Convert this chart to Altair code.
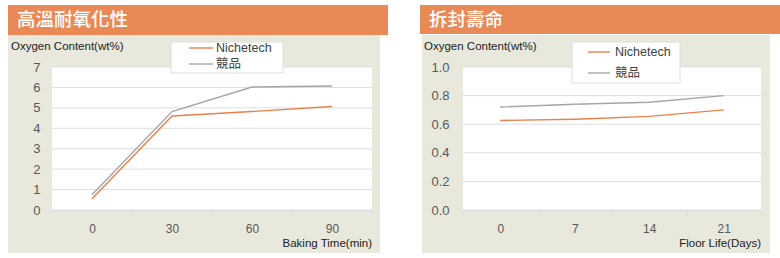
import altair as alt
import pandas as pd

# ---- data ----
series_names = ["Nichetech", "競品"]

bake_time = ["0", "30", "60", "90"]
bake_niche = [0.55, 4.6, 4.82, 5.07]
bake_comp = [0.75, 4.82, 6.02, 6.07]
bake_yticks = [0, 1, 2, 3, 4, 5, 6, 7]

floor_days = ["0", "7", "14", "21"]
floor_niche = [0.626, 0.635, 0.655, 0.70]
floor_comp = [0.72, 0.74, 0.754, 0.80]
floor_yticks = [0.0, 0.2, 0.4, 0.6, 0.8, 1.0]

titles = ["高溫耐氧化性", "拆封壽命"]
y_title = "Oxygen Content(wt%)"
x_titles = ["Baking Time(min)", "Floor Life(Days)"]

ORANGE = "#E9804A"
GREY = "#A5A5A5"
HEADER = "#E98A56"
BEIGE = "#E8E8DC"
GRID = "#DEDEDE"
FONT = "Liberation Sans, Noto Sans CJK TC"


def long_df(cats, a, b):
    rows = []
    for name, vals in zip(series_names, [a, b]):
        for c, v in zip(cats, vals):
            rows.append({"cat": c, "series": name, "value": v})
    return pd.DataFrame(rows)


one = alt.Data(values=[{}])


def rect(x, x2, y, y2, fill, stroke=None):
    kw = {"fill": fill}
    if stroke:
        kw["stroke"] = stroke
        kw["strokeWidth"] = 1
    return alt.Chart(one).mark_rect(**kw).encode(
        x=alt.value(x), x2=alt.value(x2), y=alt.value(y), y2=alt.value(y2)
    )


def text(t, x, y, size, color, align="left", weight="normal", font=FONT):
    return alt.Chart(one).mark_text(
        text=t, align=align, baseline="middle", fontSize=size, color=color,
        font=font, fontWeight=weight
    ).encode(x=alt.value(x), y=alt.value(y))


def panel(cats, a, b, yticks, yfmt, title, xtitle, W, H, g):
    df = long_df(cats, a, b)
    ydom = [yticks[0], yticks[-1]]
    color = alt.Color("series:N", scale=alt.Scale(domain=series_names, range=[ORANGE, GREY]), legend=None)

    bg = rect(g["bx"], g["bx2"], -32, 186, BEIGE)
    white = rect(0, W, 0, H, "white")
    head = rect(g["hx"], g["hx2"], -62, g["hy2"], HEADER)
    htext = text(title, g["tx"], -47, 18.5, "white", weight=500, font="Noto Sans CJK TC")

    grid = alt.Chart(pd.DataFrame({"v": yticks})).mark_rule(color=GRID, strokeWidth=1).encode(
        y=alt.Y("v:Q", scale=alt.Scale(domain=ydom), axis=None)
    )

    lines = alt.Chart(df).mark_line(strokeWidth=1.4).encode(
        x=alt.X("cat:O", sort=cats, bandPosition=0.5,
                scale=alt.Scale(type="band", paddingInner=0, paddingOuter=0),
                axis=alt.Axis(title=None, labelAngle=0, tickBand="extent", ticks=True,
                              tickColor=GRID, tickSize=5, domainColor=GRID,
                              labelColor="#595959", labelFontSize=12, labelFont=FONT,
                              labelPadding=8, grid=False, zindex=1)),
        y=alt.Y("value:Q", scale=alt.Scale(domain=ydom),
                axis=alt.Axis(title=None, values=yticks, format=yfmt, grid=False,
                              domain=False, ticks=False, labelColor="#595959",
                              labelFontSize=13, labelFont=FONT, labelPadding=g["lp"], zindex=1)),
        color=color,
        order=alt.Order("series:N", sort="descending"),
    )

    ytxt = text(y_title, g["ytx"], -20, 11.5, "#222222")
    xtxt = text(xtitle, W, 177, 11.5, "#222222", align="right")

    lbox = rect(g["lx"], g["lx2"], -25, g["ly2"], "white", stroke=GRID)
    leg_data = alt.Data(values=[{"series": s} for s in series_names])
    leg_y = alt.Y("series:N", scale=alt.Scale(type="point", domain=series_names,
                                               range=g["lyr"], padding=0), axis=None)
    leg_rule = alt.Chart(leg_data).mark_rule(strokeWidth=1.4).encode(
        x=alt.value(g["lsx"]), x2=alt.value(g["lsx2"]), y=leg_y, color=color
    )
    leg_text = alt.Chart(leg_data).mark_text(align="left", baseline="middle", fontSize=12.5,
                                             font=FONT, color="#404040").encode(
        x=alt.value(g["ltx"]), y=leg_y, text="series:N"
    )

    return alt.layer(bg, white, head, htext, grid, lines, ytxt, xtxt, lbox, leg_rule, leg_text).resolve_scale(
        y="independent"
    ).properties(width=W, height=H)


left = panel(bake_time, bake_niche, bake_comp, bake_yticks, "d", titles[0], x_titles[0], 320, 143,
             dict(bx=-44, bx2=328, hx=-44, hx2=336, hy2=-32, tx=-35, lp=12, ytx=-41,
                  lx=119, lx2=231, ly2=6, lyr=[-19, -3], lsx=137, lsx2=161, ltx=164))
right = panel(floor_days, floor_niche, floor_comp, floor_yticks, ".1f", titles[1], x_titles[1], 298, 143,
              dict(bx=-41, bx2=307, hx=-43, hx2=317, hy2=-33, tx=-34, lp=14, ytx=-39,
                   lx=109, lx2=217, ly2=16, lyr=[-15, 6], lsx=125, lsx2=147, ltx=152))

chart = alt.hconcat(left, right, spacing=91, bounds="flush").properties(
    padding={"left": 8, "top": 5, "right": 0, "bottom": 5}
).configure_view(strokeWidth=0)

chart.save("out.html", embed_options={"renderer": "svg", "actions": False})
